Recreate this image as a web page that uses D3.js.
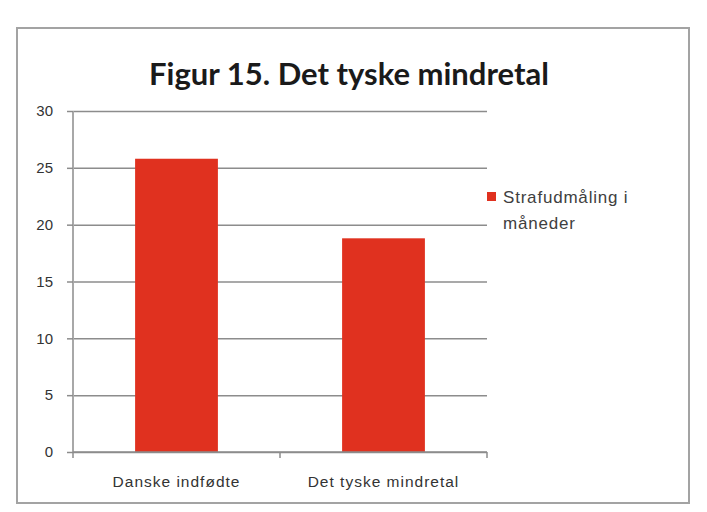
<!DOCTYPE html>
<html>
<head>
<meta charset="utf-8">
<script src="https://cdn.jsdelivr.net/npm/d3@7"></script>
<style>
  html, body { margin: 0; padding: 0; background: #fff; }
  svg { display: block; }
</style>
</head>
<body>
<svg id="chart" width="707" height="512"></svg>
<script>
// data
var categories = ["Danske indfødte", "Det tyske mindretal"];
var values = [25.8, 18.8];
var seriesName = ["Strafudmåling i", "måneder"];
var yTicks = [0, 5, 10, 15, 20, 25, 30];

var W = 707, H = 512, M = { t: 111, r: 220, b: 60, l: 73 };
var iw = W - M.l - M.r, ih = H - M.t - M.b;
var FONT = "'Liberation Sans', Arial, sans-serif";
var svg = d3.select("#chart");

// chart frame
svg.append("rect").attr("x", 17).attr("y", 28).attr("width", 672).attr("height", 475)
  .attr("fill", "#fff").attr("stroke", "#a3a3a3").attr("stroke-width", 2);

svg.append("text").attr("x", 349).attr("y", 85).attr("text-anchor", "middle")
  .attr("font-family", "Lato, 'Open Sans', sans-serif").attr("font-weight", "bold")
  .attr("font-size", 31).attr("fill", "#1a1a1a").text("Figur 15. Det tyske mindretal");

var g = svg.append("g").attr("transform", "translate(" + M.l + "," + M.t + ")");
var x = d3.scaleBand().domain(categories).range([0, iw]);
var y = d3.scaleLinear().domain([0, 30]).range([ih, 0]);

// grid
g.append("g").call(d3.axisLeft(y).tickValues(yTicks).tickSize(-iw).tickFormat(""))
  .call(function (s) { s.select(".domain").remove(); s.selectAll("line").attr("stroke", "#8c8c8c").attr("stroke-width", 1.5); });

// bars (Excel gap width 150% -> bar = 40% of category)
var bw = x.bandwidth() * 0.4;
g.selectAll("rect.bar").data(values).enter().append("rect").attr("class", "bar")
  .attr("x", function (d, i) { return x(categories[i]) + (x.bandwidth() - bw) / 2; })
  .attr("width", bw)
  .attr("y", function (d) { return y(d); })
  .attr("height", function (d) { return ih - y(d); })
  .attr("fill", "#e0311f");

// y axis
g.append("g").call(d3.axisLeft(y).tickValues(yTicks).tickSize(6).tickPadding(14))
  .call(function (s) {
    s.select(".domain").attr("stroke", "#a8a8a8").attr("stroke-width", 2).attr("d", "M0," + ih + "V0");
    s.selectAll("line").attr("stroke", "#8c8c8c").attr("stroke-width", 1.5);
    s.selectAll("text").attr("font-family", FONT).attr("font-size", 15).attr("fill", "#333");
  });

// x axis, ticks at band edges
var xa = g.append("g").attr("transform", "translate(0," + ih + ")");
xa.append("line").attr("x1", 0).attr("x2", iw).attr("stroke", "#8c8c8c").attr("stroke-width", 1.5);
xa.selectAll("line.edge").data([0].concat(categories)).enter().append("line").attr("class", "edge")
  .attr("x1", function (d, i) { return i === 0 ? 0 : x(d) + x.bandwidth(); })
  .attr("x2", function (d, i) { return i === 0 ? 0 : x(d) + x.bandwidth(); })
  .attr("y1", 0).attr("y2", 6).attr("stroke", "#8c8c8c").attr("stroke-width", 1.5);
xa.selectAll("text").data(categories).enter().append("text")
  .attr("x", function (d) { return x(d) + x.bandwidth() / 2; }).attr("y", 35)
  .attr("text-anchor", "middle").attr("font-family", FONT).attr("letter-spacing", 1)
  .attr("font-size", 15.5).attr("fill", "#333").text(function (d) { return d; });

// legend
var lg = svg.append("g").attr("transform", "translate(487,197)");
lg.append("rect").attr("x", 0).attr("y", -5).attr("width", 9).attr("height", 9).attr("fill", "#e0311f");
lg.selectAll("text").data(seriesName).enter().append("text")
  .attr("x", 16).attr("y", function (d, i) { return 6 + i * 26; })
  .attr("font-family", FONT).attr("font-size", 17).attr("letter-spacing", 0.8).attr("fill", "#404040")
  .text(function (d) { return d; });
</script>
</body>
</html>
